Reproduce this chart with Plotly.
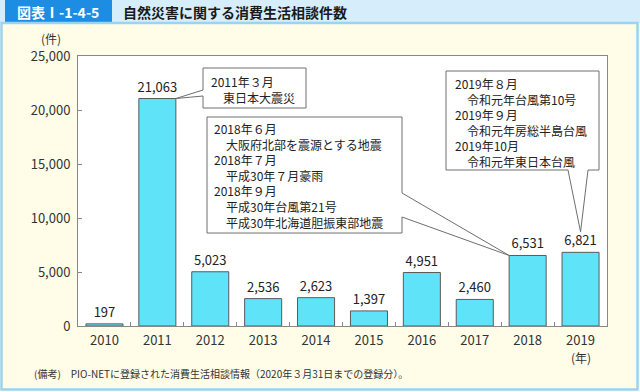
import plotly.graph_objects as go

# ---------------- data ----------------
years = ["2010", "2011", "2012", "2013", "2014", "2015", "2016", "2017", "2018", "2019"]
counts = [197, 21063, 5023, 2536, 2623, 1397, 4951, 2460, 6531, 6821]
y_ticks = [0, 5000, 10000, 15000, 20000, 25000]

header_label = "図表Ⅰ-1-4-5"
title_text = "自然災害に関する消費生活相談件数"
y_unit = "(件)"
x_unit = "(年)"
footnote = "(備考)　PIO-NETに登録された消費生活相談情報（2020年３月31日までの登録分）。"

note_2011 = ["2011年３月", "　東日本大震災"]
note_2018 = ["2018年６月", "　大阪府北部を震源とする地震", "2018年７月", "　平成30年７月豪雨",
             "2018年９月", "　平成30年台風第21号", "　平成30年北海道胆振東部地震"]
note_2019 = ["2019年８月", "　令和元年台風第10号", "2019年９月", "　令和元年房総半島台風",
             "2019年10月", "　令和元年東日本台風"]

# ---------------- layout geometry ----------------
W, H = 640, 392
PL, PR, PT, PB = 78, 607, 56, 326
YMAX = 25000
BAR_W = 0.7
FONT = "Noto Sans CJK JP, Noto Sans, sans-serif"
N = len(years)


def xp(px):  # pixel -> paper x
    return (px - PL) / (PR - PL)


def yp(py):  # pixel -> paper y
    return (PB - py) / (PB - PT)


def xd(px):  # pixel -> category index
    return (px - PL) / (PR - PL) * N - 0.5


def yd(py):  # pixel -> data value
    return (PB - py) / (PB - PT) * YMAX


fig = go.Figure()
fig.add_trace(go.Bar(
    x=years, y=counts, width=BAR_W,
    marker=dict(color="#5FE3F8", line=dict(color="#5a5a5a", width=1)),
    texttemplate="%{y:,}", textposition="outside", constraintext="none",
    textfont=dict(size=13, color="#222", family=FONT),
    cliponaxis=False, hoverinfo="skip",
))

shapes = []
# header band + blue label box
shapes.append(dict(type="rect", xref="paper", yref="paper", x0=xp(0), x1=xp(W), y0=yp(0), y1=yp(23),
                   fillcolor="#D6EDFB", line=dict(width=0), layer="below"))
shapes.append(dict(type="rect", xref="paper", yref="paper", x0=xp(5), x1=xp(112), y0=yp(0), y1=yp(23),
                   fillcolor="#1C8DE3", line=dict(width=0), layer="below"))
# body border
shapes.append(dict(type="rect", xref="paper", yref="paper", x0=xp(1.5), x1=xp(637.5), y0=yp(23), y1=yp(389.5),
                   fillcolor="rgba(0,0,0,0)", line=dict(color="#9BD3F2", width=2.5), layer="below"))


def path(points):
    return "M " + " L ".join(f"{x:.4f},{y:.2f}" for x, y in points) + " Z"


i11 = years.index("2011")
i18 = years.index("2018")
i19 = years.index("2019")

# callout 2011
tip1 = (i11 + BAR_W / 2, counts[i11])
c1 = [(xd(203), yd(68)), (xd(306), yd(68)), (xd(306), yd(108)), (xd(203), yd(108)),
      (xd(203), yd(96)), tip1, (xd(203), yd(90))]
# callout 2018
tip2 = (i18 - BAR_W / 2, counts[i18])
c2 = [(xd(207), yd(117)), (xd(402), yd(117)), (xd(402), yd(193)), tip2, (xd(402), yd(217)),
      (xd(402), yd(233)), (xd(207), yd(233))]
# callout 2019
tip3 = (i19, counts[i19] + yd(PB - 20.5))
c3 = [(xd(446), yd(71)), (xd(599), yd(71)), (xd(599), yd(170)), (xd(588), yd(170)), tip3,
      (xd(568), yd(170)), (xd(446), yd(170))]
for c in (c1, c2, c3):
    shapes.append(dict(type="path", xref="x", yref="y", path=path(c),
                       fillcolor="white", line=dict(color="#6e6e6e", width=1), layer="above"))

annotations = []


def text_ann(x, y, text, size=13, color="#222", xanchor="left", xref="paper", yref="paper"):
    annotations.append(dict(x=x, y=y, xref=xref, yref=yref, text=text, showarrow=False,
                            xanchor=xanchor, yanchor="middle", borderpad=0, align="left",
                            font=dict(size=size, color=color, family=FONT)))


def note_block(lines, x_px, first_px, last_px):
    text_ann(xp(x_px), yp((first_px + last_px) / 2), "<br>".join(lines), size=12)


note_block(note_2011, 210, 81.5, 97)
note_block(note_2018, 213, 129, 222)
note_block(note_2019, 454, 84.3, 160)

text_ann(xp(58), yp(12), f"<b>{header_label}</b>", size=14, color="white", xanchor="center")
text_ann(xp(122), yp(12), f"<b>{title_text}</b>", size=14, color="#1a1a1a")
text_ann(xp(51), yp(38.5), y_unit, size=12, color="#333", xanchor="center")
text_ann(i19, yp(357.5), x_unit, size=12, color="#333", xanchor="center", xref="x")
text_ann(xp(33), yp(373), footnote, size=10, color="#333")

fig.update_layout(
    width=W, height=H, autosize=False,
    margin=dict(l=PL, r=W - PR, t=PT, b=H - PB, pad=0),
    paper_bgcolor="#FFFDE8", plot_bgcolor="white",
    showlegend=False, bargap=0.3,
    font=dict(family=FONT, color="#333"),
    shapes=shapes, annotations=annotations,
)
fig.update_xaxes(
    type="category", categoryorder="array", categoryarray=years,
    range=[-0.5, N - 0.5], fixedrange=True,
    showline=True, linecolor="#888", linewidth=1, mirror=True,
    ticks="inside", tickson="boundaries", ticklen=4, tickcolor="#888",
    tickfont=dict(size=13, color="#333", family=FONT), ticklabelstandoff=2,
    showgrid=False, zeroline=False,
)
fig.update_yaxes(
    range=[0, YMAX], tickvals=y_ticks, tickformat=",", fixedrange=True,
    showline=True, linecolor="#888", linewidth=1, mirror=True,
    ticks="inside", ticklen=4, tickcolor="#888",
    tickfont=dict(size=13, color="#333", family=FONT), ticklabelstandoff=4,
    showgrid=False, zeroline=False,
)

fig.write_html("out.html", config={"displayModeBar": False},
               post_script="document.body.style.margin='0';document.body.style.overflow='hidden';")
